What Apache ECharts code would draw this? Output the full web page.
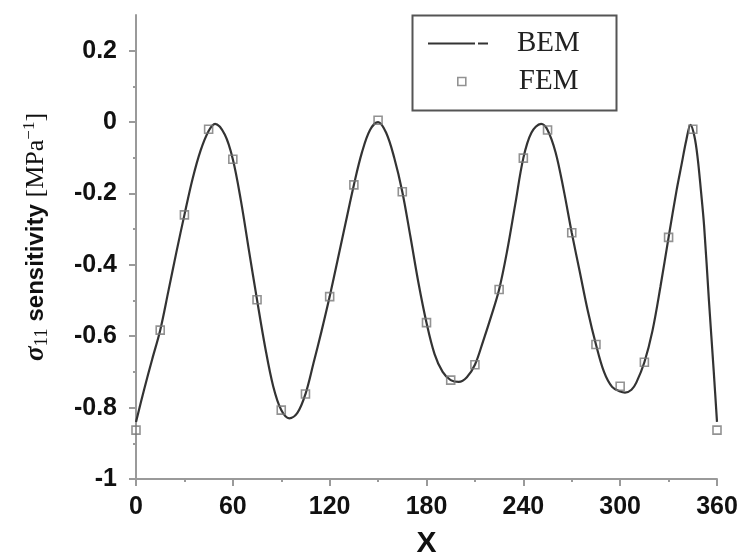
<!DOCTYPE html>
<html>
<head>
<meta charset="utf-8">
<script src="https://cdn.jsdelivr.net/npm/echarts@6/dist/echarts.min.js"></script>
<style>html,body{margin:0;padding:0;background:#fff;}#c{width:745px;height:558px;}</style>
</head>
<body>
<div id="c"></div>
<script>
// BEM curve (x in degrees, sensitivity)
var bemX = [0,5,10,15,20,25,30,35,40,45,49,55,60,65,70,75,80,85,90,95,100,105,110,115,120,125,130,135,140,145,150,155,160,165,170,175,180,185,190,195,200,205,210,215,220,225,230,235,240,245,251,255,260,265,270,275,280,285,290,295,300,303,307,310,315,320,325,330,335,338,341,343.6,346,348,350,352,355,358,360];
var bemY = [-0.84,-0.75,-0.665,-0.583,-0.475,-0.365,-0.26,-0.16,-0.08,-0.025,-0.005,-0.035,-0.104,-0.22,-0.36,-0.498,-0.63,-0.74,-0.807,-0.83,-0.815,-0.762,-0.675,-0.585,-0.489,-0.385,-0.28,-0.176,-0.085,-0.022,0.0,-0.03,-0.1,-0.195,-0.32,-0.45,-0.562,-0.65,-0.7,-0.723,-0.728,-0.715,-0.68,-0.615,-0.545,-0.469,-0.36,-0.23,-0.101,-0.03,-0.005,-0.022,-0.085,-0.19,-0.31,-0.42,-0.53,-0.623,-0.7,-0.742,-0.755,-0.758,-0.75,-0.73,-0.673,-0.585,-0.46,-0.323,-0.19,-0.12,-0.05,-0.008,-0.04,-0.1,-0.19,-0.29,-0.5,-0.7,-0.84];
// FEM points
var femX = [0,15,30,45,60,75,90,105,120,135,150,165,180,195,210,225,240,255,270,285,300,315,330,345,360];
var femY = [-0.863,-0.583,-0.26,-0.02,-0.104,-0.498,-0.807,-0.762,-0.489,-0.176,0.005,-0.195,-0.562,-0.723,-0.68,-0.469,-0.101,-0.022,-0.31,-0.623,-0.74,-0.673,-0.323,-0.02,-0.863];
// axis ticks
var xTicks = [0,60,120,180,240,300,360];
var yMajor = [-1,-0.8,-0.6,-0.4,-0.2,0,0.2];
var yMinor = [-0.9,-0.7,-0.5,-0.3,-0.1,0.1];

var bemData = bemX.map(function(x,i){return [x, bemY[i]];});
var femData = femX.map(function(x,i){return [x, femY[i]];});

var axisCol = '#9a9a9a';
var lblStyle = {fontFamily:'Liberation Sans, Arial, sans-serif', fontWeight:'bold', fontSize:25, color:'#111'};

var chart = echarts.init(document.getElementById('c'), null, {renderer:'canvas'});
chart.setOption({
  animation:false,
  backgroundColor:'#fff',
  grid:{left:136, right:28, top:15, bottom:79, containLabel:false, outerBoundsMode:'none'},
  xAxis:{
    type:'value', min:0, max:360, interval:60,
    name:'X', nameLocation:'middle', nameGap:50,
    nameTextStyle:{fontFamily:'Liberation Sans, Arial, sans-serif', fontWeight:'bold', fontSize:30, color:'#111'},
    axisLine:{show:true, onZero:false, lineStyle:{color:axisCol, width:2}},
    axisTick:{show:true, inside:false, length:7, lineStyle:{color:axisCol, width:2}},
    minorTick:{show:true, splitNumber:2, length:3, lineStyle:{color:axisCol, width:2}},
    splitLine:{show:false}, minorSplitLine:{show:false},
    axisLabel:Object.assign({margin:16, customValues:xTicks}, lblStyle)
  },
  yAxis:[{
    type:'value', min:-1, max:0.3, interval:0.2,
    name:'{s|σ}{sub|11}{b| sensitivity }{t|[MPa}{sup|−1}{t|]}',
    nameLocation:'middle', nameGap:84, nameRotate:90,
    nameTextStyle:{
      color:'#111', padding:[0,0,0,20],
      rich:{
        s:{fontFamily:'Liberation Serif, Times New Roman, serif', fontStyle:'italic', fontWeight:'bold', fontSize:27, color:'#111'},
        sub:{fontFamily:'Liberation Serif, Times New Roman, serif', fontSize:19, color:'#111', verticalAlign:'bottom', padding:[12,0,0,0]},
        b:{fontFamily:'Liberation Sans, Arial, sans-serif', fontWeight:'bold', fontSize:24, color:'#111'},
        t:{fontFamily:'Liberation Serif, Times New Roman, serif', fontSize:26, color:'#111'},
        sup:{fontFamily:'Liberation Serif, Times New Roman, serif', fontSize:17, color:'#111', verticalAlign:'top', padding:[0,0,12,0]}
      }
    },
    axisLine:{show:true, onZero:false, lineStyle:{color:axisCol, width:2}},
    axisTick:{show:true, inside:false, length:7, customValues:yMajor, lineStyle:{color:axisCol, width:2}},
    splitLine:{show:false},
    axisLabel:Object.assign({margin:19, customValues:yMajor, formatter:function(v){return (Math.round(v*10)/10).toString();}}, lblStyle)
  },{
    type:'value', min:-1, max:0.3, position:'left',
    axisLine:{show:false, onZero:false},
    axisTick:{show:true, inside:false, length:3, customValues:yMinor, lineStyle:{color:axisCol, width:2}},
    axisLabel:{show:false}, splitLine:{show:false}
  }],
  legend:[{
    left:428, top:29, orient:'vertical', padding:0,
    itemWidth:60, itemHeight:2.5,
    data:[{name:'BEM', icon:'path://M0,0H47V2H0ZM50,0H60V2H50Z', itemStyle:{color:'#333'}}],
    textStyle:{fontFamily:'Liberation Serif, Times New Roman, serif', fontSize:29, color:'#222', padding:[0,0,0,24]}
  },{
    left:457, top:67, orient:'vertical', padding:0,
    itemWidth:8, itemHeight:8,
    data:[{name:'FEM', icon:'rect', itemStyle:{color:'rgba(255,255,255,0)', borderColor:'#777', borderWidth:1.6}}],
    textStyle:{fontFamily:'Liberation Serif, Times New Roman, serif', fontSize:29, color:'#222', padding:[0,0,0,48]}
  }],
  graphic:[{
    type:'rect', left:410, top:13, shape:{width:204, height:95},
    style:{fill:'none', stroke:'#555', lineWidth:2}, z:10
  }],
  series:[{
    name:'BEM', type:'line', data:bemData, smooth:0.35, showSymbol:false,
    lineStyle:{color:'#333', width:2.2}, z:3
  },{
    name:'FEM', type:'scatter', data:femData, symbol:'rect', symbolSize:8,
    itemStyle:{color:'rgba(255,255,255,0)', borderColor:'#777', borderWidth:1.6}, z:4
  }]
});
</script>
</body>
</html>
